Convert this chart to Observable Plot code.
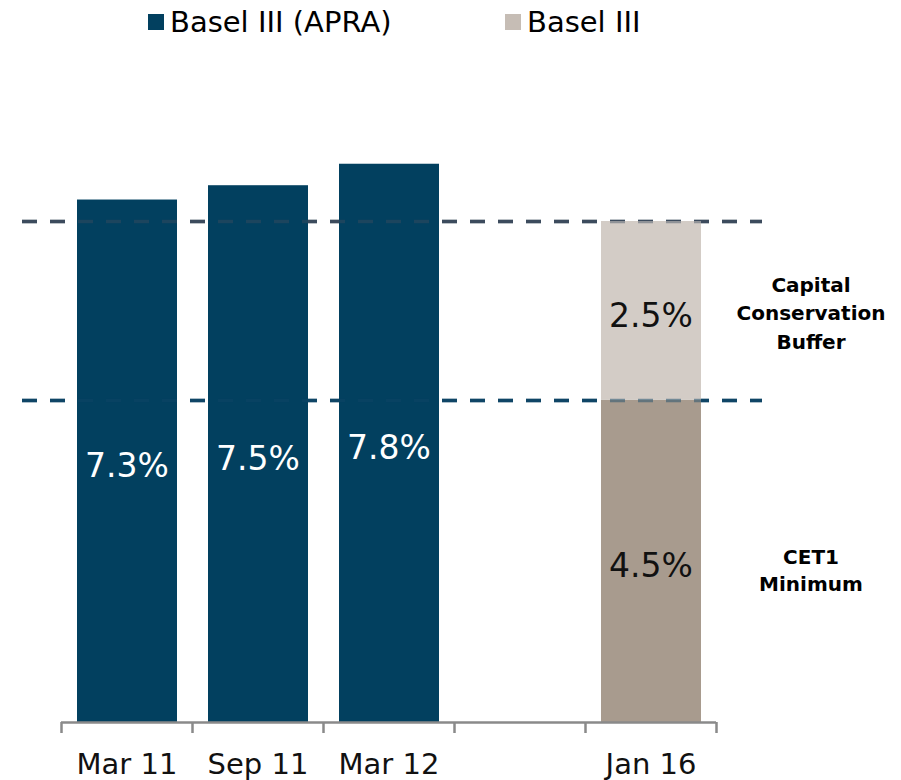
<!DOCTYPE html>
<html>
<head>
<meta charset="utf-8">
<script src="https://cdn.jsdelivr.net/npm/d3@7"></script>
<script src="https://cdn.jsdelivr.net/npm/@observablehq/plot@0.6"></script>
<style>
  html, body { margin: 0; padding: 0; background: #fff; }
  body { width: 901px; height: 780px; overflow: hidden; font-family: "DejaVu Sans", Verdana, sans-serif; }
  #legend { position: relative; height: 50px; width: 901px; }
  .item { position: absolute; top: 5px; height: 34px; display: flex; align-items: center; font-size: 29px; color: #000; white-space: nowrap; }
  .sw { width: 16px; height: 16px; margin-right: 6px; display: inline-block; }
</style>
</head>
<body>
<div id="legend"></div>
<div id="chart"></div>
<script>
// ---- data ----
const categories = ["Mar 11", "Sep 11", "Mar 12", "", "Jan 16"];
const apraDates = ["Mar 11", "Sep 11", "Mar 12"];
const apraValues = [7.3, 7.5, 7.8];
const jan16Parts = ["CET1 Minimum", "Capital Conservation Buffer"];
const jan16Values = [4.5, 2.5];
const partLabels = [["CET1", "Minimum"], ["Capital", "Conservation", "Buffer"]];
const legendNames = ["Basel III (APRA)", "Basel III"];
const thresholds = [4.5, 7.0];

// ---- colours ----
const apraColor = "#02405f";
const partColors = ["#a89b8e", "#d3ccc6"];
const legendColors = [apraColor, "#c6bdb5"];
const dashColors = ["#0f4566", "#3c4c5e"];

// ---- legend ----
const legend = document.getElementById("legend");
const legendLeft = [148, 505];
legendNames.forEach((name, i) => {
  const el = document.createElement("div");
  el.className = "item";
  el.style.left = legendLeft[i] + "px";
  el.innerHTML = `<span class="sw" style="background:${legendColors[i]}"></span><span>${name}</span>`;
  legend.appendChild(el);
});

// ---- rows ----
const rows = apraDates.map((d, i) => ({date: d, y1: 0, y2: apraValues[i], fill: apraColor, text: apraValues[i].toFixed(1) + "%", textColor: "#fff"}));
let acc = 0;
jan16Values.forEach((v, i) => {
  rows.push({date: "Jan 16", y1: acc, y2: acc + v, fill: partColors[i], text: v.toFixed(1) + "%", textColor: "#111", part: jan16Parts[i], lines: partLabels[i]});
  acc += v;
});
const cetRow = rows.filter(r => r.part === jan16Parts[0]);
const bufRow = rows.filter(r => r.part === jan16Parts[1]);

const xRange = [61, 716];
const step = (xRange[1] - xRange[0]) / categories.length;
const marginLeft = 22, marginRight = 139, width = 901;
const font = "DejaVu Sans, Verdana, sans-serif";
const axisColor = "#8a8a8a";

const chart = Plot.plot({
  width,
  height: 730,
  marginLeft,
  marginRight,
  marginTop: 0,
  marginBottom: 0,
  style: {fontFamily: font, background: "#fff"},
  x: {type: "band", domain: categories, range: xRange, padding: 0, axis: null},
  y: {domain: [0, 7], range: [672, 171], axis: null},
  marks: [
    // dashed reference lines (under bars)
    Plot.ruleY(thresholds, {y: d => d, stroke: (d, i) => dashColors[i], strokeWidth: 3.5, strokeDasharray: "15,13"}),
    // bars
    Plot.rectY(rows, {x: "date", y1: "y1", y2: "y2", fill: "fill", insetLeft: 16, insetRight: 15}),
    // faint dashes over bars
    Plot.ruleY(thresholds, {y: d => d, stroke: (d, i) => dashColors[i], strokeWidth: 3.5, strokeDasharray: "15,13", strokeOpacity: 0.45}),
    // x axis line and boundary ticks
    Plot.ruleY([0], {y: d => d, stroke: axisColor, strokeWidth: 2.5, insetLeft: xRange[0] - marginLeft, insetRight: (width - marginRight) - xRange[1]}),
    Plot.ruleX(categories, {x: d => d, y1: 0, y2: 0, insetBottom: -11, dx: -step / 2, stroke: axisColor, strokeWidth: 2.5}),
    Plot.ruleX([categories[categories.length - 1]], {x: d => d, y1: 0, y2: 0, insetBottom: -11, dx: step / 2, stroke: axisColor, strokeWidth: 2.5}),
    // value labels
    Plot.text(rows, {x: "date", y: d => (d.y1 + d.y2) / 2, text: "text", fill: "textColor", fontSize: 33, dy: 5}),
    // category labels
    Plot.text(categories.filter(c => c !== ""), {x: d => d, y: 0, text: d => d, fontSize: 29, fill: "#111", dy: 42}),
    // side annotations
    Plot.text(bufRow, {x: "date", y: d => (d.y1 + d.y2) / 2, text: d => d.lines.join("\n"), fontSize: 20, fontWeight: "bold", fill: "#000", dx: 160, lineHeight: 1.43}),
    Plot.text(cetRow, {x: "date", y: d => (d.y1 + d.y2) / 2, text: d => d.lines.join("\n"), fontSize: 20, fontWeight: "bold", fill: "#000", dx: 160, dy: 7, lineHeight: 1.38})
  ]
});
document.getElementById("chart").appendChild(chart);
</script>
</body>
</html>
